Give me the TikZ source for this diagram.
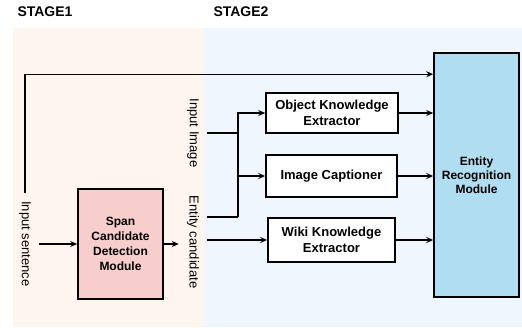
\documentclass[tikz,border=0pt]{standalone}
\usepackage{fontspec}
\setmainfont{Liberation Sans}
\usetikzlibrary{arrows.meta}
\definecolor{stageonebg}{HTML}{FEF5EF}
\definecolor{stagetwobg}{HTML}{F0F6FD}
\definecolor{spanfill}{HTML}{F8CECC}
\definecolor{ermfill}{HTML}{B1DDF0}
\tikzset{
    stagelabel/.style={anchor=west, font=\fontsize{14}{16}\selectfont\bfseries},
    inlabel/.style={rotate=-90, inner sep=8pt, font=\fontsize{13}{15}\selectfont},
    extractor/.style={rectangle, draw, line width=1.6pt, fill=white, align=center, font=\fontsize{13}{15.5}\selectfont\bfseries},
    module/.style={rectangle, draw, line width=1.6pt, align=center, font=\fontsize{12}{15}\selectfont\bfseries},
    flow/.style={line width=1.1pt, ->},
}
\begin{document}
\begin{tikzpicture}[x=1pt, y=-1pt, >={Stealth[length=7pt,width=6pt]}]
    \useasboundingbox (0,0) rectangle (522,327);
    % Stage backgrounds
    \fill[stageonebg] (13,28) rectangle (204,327);
    \fill[stagetwobg] (204,28) rectangle (522,327);
    \node[stagelabel] (stageone) at (14,12) {STAGE1};
    \node[stagelabel] (stagetwo) at (210,12) {STAGE2};

    % Stage 1
    \node[inlabel] (sent) at (25,244) {Input sentence};
    \node[module, fill=spanfill, minimum width=85pt, minimum height=110pt] (span) at (120.5,244) {Span\\Candidate\\Detection\\Module};

    % Stage 2 inputs
    \node[inlabel] (img) at (193,133) {Input Image};
    \node[inlabel] (cand) at (193,242) {Entity candidate};

    % Extractors and recognition
    \node[extractor, minimum width=132pt, minimum height=40pt] (oke) at (332,113) {Object Knowledge\\Extractor};
    \node[extractor, minimum width=131pt, minimum height=42pt] (cap) at (331.5,176) {Image Captioner};
    \node[extractor, minimum width=127pt, minimum height=44pt] (wiki) at (331.5,240) {Wiki Knowledge\\Extractor};
    \node[module, fill=ermfill, minimum width=85pt, minimum height=244pt, font=\fontsize{12}{14}\selectfont\bfseries] (erm) at (476.5,175) {Entity\\Recognition\\Module};

    % Connectors
    \coordinate (fork) at (238,217);
    \draw[flow] (sent.west) |- ([yshift=-22pt]erm.north west);
    \draw[flow] (sent.north) -- (span.west);
    \draw[flow] (span.east) -- (span.east -| cand.south);
    \draw[flow, -] (img.north) -- (img.north -| fork);
    \draw[flow, -] (cand.north |- fork) -- (fork);
    \draw[flow] (fork) |- (oke.west);
    \draw[flow] (fork) |- (cap.west);
    \draw[flow] (cand.north |- wiki.west) -- (wiki.west);
    \foreach \src in {oke, cap, wiki} {
        \draw[flow] (\src.east) -- (\src.east -| erm.west);
    }
\end{tikzpicture}
\end{document}
